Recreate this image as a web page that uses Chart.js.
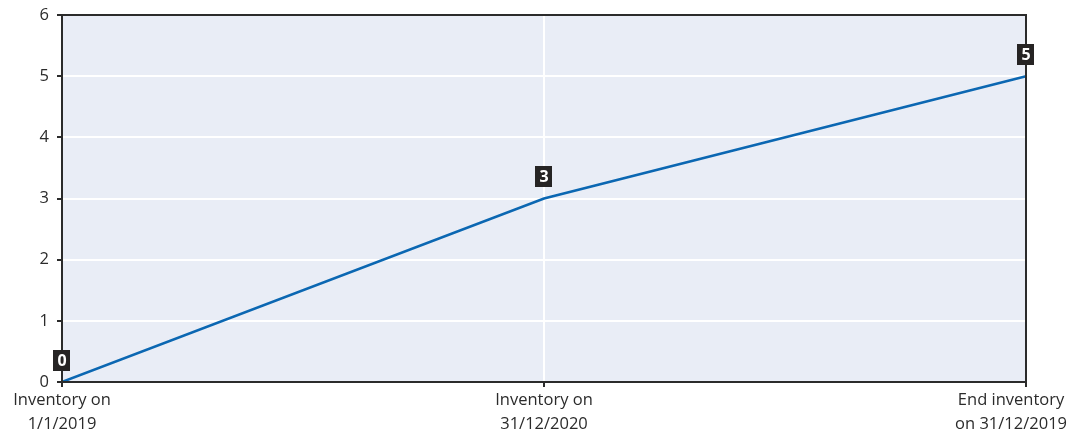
<!DOCTYPE html>
<html>
<head>
<meta charset="utf-8">
<script src="https://cdn.jsdelivr.net/npm/chart.js@4"></script>
<style>
  html, body { margin: 0; padding: 0; background: #ffffff; }
  #wrap { width: 1069px; height: 433px; position: relative; }
</style>
</head>
<body>
<div id="wrap"><canvas id="c" width="1069" height="433"></canvas></div>
<script>
// Inventory levels at three points in time
const categories = [
  ['Inventory on', '1/1/2019'],
  ['Inventory on', '31/12/2020'],
  ['End inventory', 'on 31/12/2019']
];
const inventory = [0, 3, 5];
const yTicks = [0, 1, 2, 3, 4, 5, 6];

const FONT = '"Open Sans", "DejaVu Sans", sans-serif';
const INK = '#2b2b2b';

// Plot background and frame around the chart area
const framePlugin = {
  id: 'frame',
  beforeDraw(chart) {
    const { ctx, chartArea: a } = chart;
    ctx.save();
    ctx.fillStyle = '#e9edf6';
    ctx.fillRect(a.left, a.top, a.right - a.left, a.bottom - a.top);
    ctx.restore();
  },
  afterDatasetsDraw(chart) {
    const { ctx, chartArea: a } = chart;
    ctx.save();
    ctx.strokeStyle = INK;
    ctx.lineWidth = 2;
    ctx.strokeRect(a.left, a.top, a.right - a.left, a.bottom - a.top);
    ctx.restore();
  }
};

// Category labels under the x axis, kept inside the canvas edges
const xLabels = {
  id: 'xLabels',
  afterDraw(chart) {
    const { ctx } = chart;
    const sx = chart.scales.x;
    const W = chart.width;
    ctx.save();
    ctx.font = '16.5px ' + FONT;
    ctx.fillStyle = INK;
    ctx.textBaseline = 'middle';
    ctx.textAlign = 'left';
    chart.data.labels.forEach((lines, i) => {
      const px = sx.getPixelForValue(i);
      const widest = Math.max(...lines.map(l => ctx.measureText(l).width));
      let left = px - widest / 2;
      left = Math.min(Math.max(left, 2), W - 2 - widest);
      lines.forEach((line, j) => {
        const w = ctx.measureText(line).width;
        ctx.fillText(line, left + (widest - w) / 2, sx.bottom - 51 + 18 + j * 24);
      });
    });
    ctx.restore();
  }
};

// Value boxes above each point
const valueLabels = {
  id: 'valueLabels',
  afterDraw(chart) {
    const { ctx } = chart;
    const meta = chart.getDatasetMeta(0);
    ctx.save();
    ctx.font = 'bold 16px ' + FONT;
    ctx.textAlign = 'center';
    ctx.textBaseline = 'middle';
    meta.data.forEach((pt, i) => {
      const txt = String(chart.data.datasets[0].data[i]);
      const w = ctx.measureText(txt).width + 8;
      const h = 21;
      const cx = pt.x, cy = pt.y - 22;
      ctx.fillStyle = '#262424';
      ctx.fillRect(Math.round(cx - w / 2), Math.round(cy - h / 2), Math.round(w), h);
      ctx.fillStyle = '#ffffff';
      ctx.fillText(txt, cx, cy + 1);
    });
    ctx.restore();
  }
};

new Chart(document.getElementById('c'), {
  type: 'line',
  data: {
    labels: categories,
    datasets: [{
      data: inventory,
      borderColor: '#0b67b2',
      borderWidth: 2.5,
      pointRadius: 0,
      tension: 0,
      fill: false
    }]
  },
  options: {
    responsive: false,
    animation: false,
    devicePixelRatio: 1,
    layout: { padding: { top: 15, right: 43, left: 0, bottom: 0 } },
    plugins: { legend: { display: false }, tooltip: { enabled: false } },
    scales: {
      x: {
        offset: false,
        grid: { color: '#ffffff', lineWidth: 2, tickColor: INK, tickLength: 5, drawTicks: true },
        border: { display: false },
        ticks: { display: false, autoSkip: false },
        afterFit(s) { s.height = 433 - 382; s.paddingLeft = 0; s.paddingRight = 0; }
      },
      y: {
        min: 0, max: 6,
        afterBuildTicks(s) { s.ticks = yTicks.map(v => ({ value: v })); },
        grid: { color: '#ffffff', lineWidth: 2, tickColor: INK, tickLength: 5 },
        border: { display: false },
        ticks: { color: INK, font: { family: FONT, size: 16.5 }, padding: 8 },
        afterFit(s) { s.width = 62; s.paddingTop = 0; s.paddingBottom = 0; }
      }
    }
  },
  plugins: [framePlugin, xLabels, valueLabels]
});
</script>
</body>
</html>
